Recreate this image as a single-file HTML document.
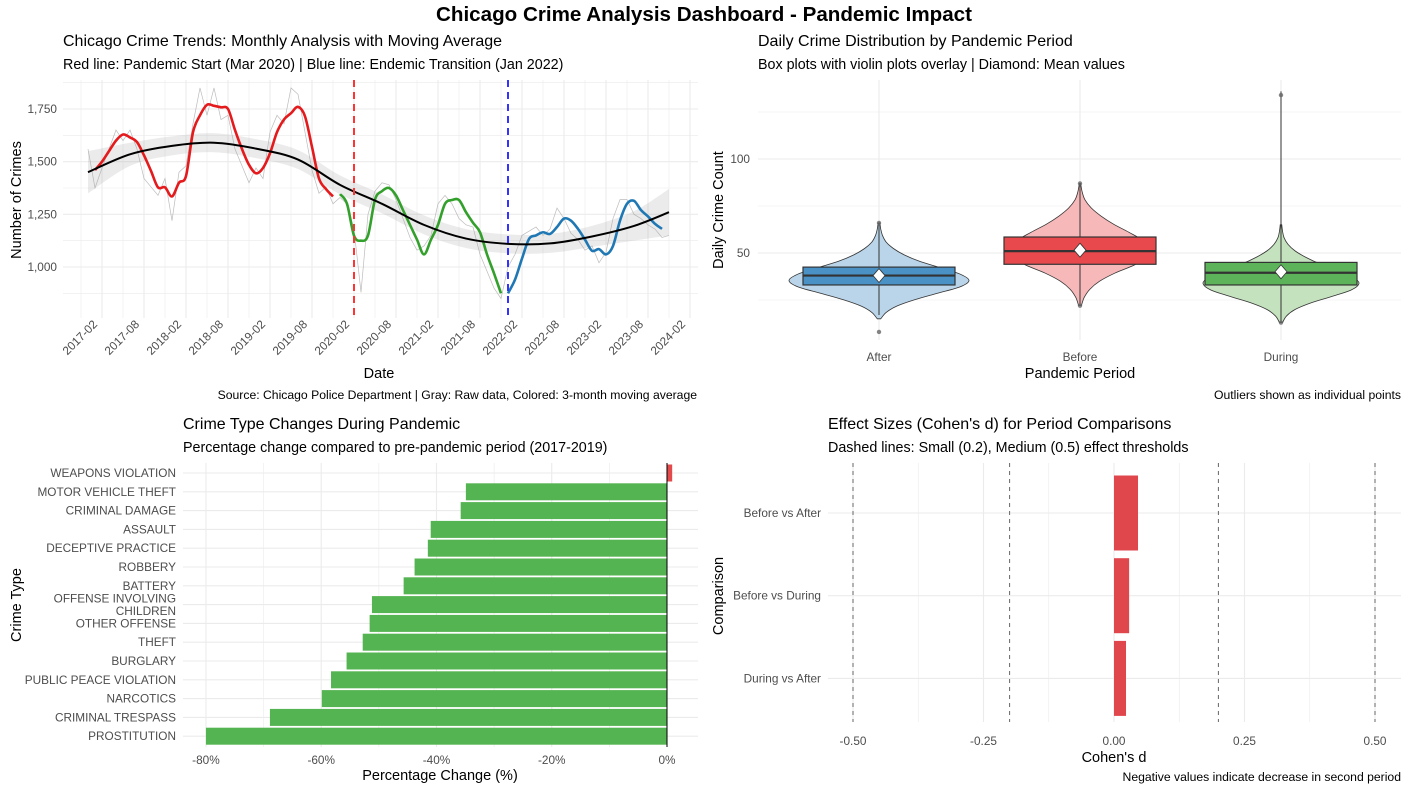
<!DOCTYPE html>
<html><head><meta charset="utf-8"><style>
body{margin:0;background:#fff;}
svg{display:block;font-family:"Liberation Sans",sans-serif;}
</style></head><body>
<svg id="s" width="1409" height="791" viewBox="0 0 1409 791">
<text x="704" y="21" text-anchor="middle" font-size="20.6" font-weight="bold" fill="#000">Chicago Crime Analysis Dashboard - Pandemic Impact</text>
<g id="tl"></g>
<g id="tr"></g>
<g id="bl"></g>
<g id="br"></g>
</svg>
<script>
// ---------- DATA ----------
const maStart = 1;
const maValues = [1460,1500,1550,1600,1629,1615,1593,1530,1456,1378,1378,1335,1400,1432,1640,1720,1770,1765,1758,1750,1650,1560,1485,1445,1470,1540,1640,1700,1730,1760,1715,1570,1420,1370,1335,
 1346,1300,1149,1125,1150,1320,1360,1375,1340,1270,1200,1130,1060,1130,1200,1300,1318,1318,1260,1210,1165,1060,970,875,
 875,940,1040,1133,1150,1165,1157,1190,1230,1220,1181,1130,1077,1085,1060,1100,1220,1300,1314,1270,1240,1205,1181];
const maPeriod = [];
for(let i=0;i<maValues.length;i++){const m=i+maStart;maPeriod.push(m<=35?0:(m<=59?1:2));}
const rawValues = [1560,1375,1470,1560,1650,1600,1650,1560,1420,1380,1340,1420,1220,1450,1480,1680,1850,1720,1850,1700,1720,1560,1480,1400,1470,1420,1640,1720,1680,1850,1820,1640,1460,1350,1380,1300,1330,1300,1180,880,1250,1360,1400,1390,1320,1230,1140,1080,1100,1150,1300,1340,1300,1230,1200,1190,1060,980,900,850,1000,1060,1150,1170,1190,1150,1180,1280,1230,1160,1130,1080,1100,1020,1070,1230,1320,1320,1250,1230,1200,1180,1140,1150];
const trendMonths = [0,6,12,18,24,30,36,42,48,54,60,66,72,78,83];
const trendValues = [1450,1535,1575,1590,1562,1510,1390,1300,1200,1135,1110,1112,1145,1195,1260];
const trendSE = [100,55,45,45,45,45,45,45,45,45,45,45,50,70,110];
const yTicksTL = [1000,1250,1500,1750];
const xTickLabelsTL = ["2017-02","2017-08","2018-02","2018-08","2019-02","2019-08","2020-02","2020-08","2021-02","2021-08","2022-02","2022-08","2023-02","2023-08","2024-02"];
const pandemicStartMonth = 38, endemicMonth = 60;

const periods = ["After","Before","During"];
const q1 = [33,44,33], med = [38,51,39.5], q3 = [42.5,58.5,45], means=[38,51.5,40];
const whiskLo = [17,22,13], whiskHi = [66,87,136];
const outliers = [[8,66],[87,22],[134,13]];
const violinMin=[15,22,13], violinMax=[66,87,65];
const violinDensity = [
 [0.02,0.08,0.2,0.4,0.65,0.9,1.0,0.9,0.68,0.45,0.28,0.16,0.08,0.04,0.02,0.01],
 [0.02,0.06,0.14,0.28,0.5,0.78,0.95,1.0,0.9,0.7,0.48,0.3,0.16,0.07,0.03,0.01],
 [0.02,0.07,0.18,0.38,0.65,0.9,1.0,0.92,0.72,0.5,0.32,0.18,0.09,0.04,0.02,0.01]];
const violinMaxW = [90,70,78];
const yTicksTR=[50,100];

const crimeTypes=["WEAPONS VIOLATION","MOTOR VEHICLE THEFT","CRIMINAL DAMAGE","ASSAULT","DECEPTIVE PRACTICE","ROBBERY","BATTERY","OFFENSE INVOLVING\nCHILDREN","OTHER OFFENSE","THEFT","BURGLARY","PUBLIC PEACE VIOLATION","NARCOTICS","CRIMINAL TRESPASS","PROSTITUTION"];
const pctChange=[0.9,-34.9,-35.8,-41,-41.5,-43.8,-45.7,-51.2,-51.6,-52.8,-55.6,-58.3,-59.9,-68.9,-80];
const xTicksBL=[-80,-60,-40,-20,0];

const comparisons=["Before vs After","Before vs During","During vs After"];
const cohensD=[0.046,0.029,0.023];
const xTicksBR=[-0.5,-0.25,0,0.25,0.5];
const thresholds=[-0.5,-0.2,0.2,0.5];

// ---------- HELPERS ----------
const NS="http://www.w3.org/2000/svg";
const TS=16, SS=14.3, KS=11.8, CS=12.2;
function mk(parent,tag,attrs,txt){const e=document.createElementNS(NS,tag);for(const k in attrs)e.setAttribute(k,attrs[k]);if(txt!==undefined)e.textContent=txt;parent.appendChild(e);return e;}
function line(p,x1,y1,x2,y2,st,w,dash){return mk(p,"line",{x1,y1,x2,y2,stroke:st,"stroke-width":w||1,"stroke-dasharray":dash||"none"});}
function txt(p,x,y,s,size,anchor,fill,extra){const a={x,y,"font-size":size,"text-anchor":anchor||"start",fill:fill||"#000"};Object.assign(a,extra||{});return mk(p,"text",a,s);}
function catmull(pts){let d="M"+pts[0][0]+","+pts[0][1];for(let i=0;i<pts.length-1;i++){const p0=pts[i-1]||pts[i],p1=pts[i],p2=pts[i+1],p3=pts[i+2]||p2;d+=" C"+(p1[0]+(p2[0]-p0[0])/6)+","+(p1[1]+(p2[1]-p0[1])/6)+" "+(p2[0]-(p3[0]-p1[0])/6)+","+(p2[1]-(p3[1]-p1[1])/6)+" "+p2[0]+","+p2[1];}return d;}

// ---------- TOP LEFT ----------
(function(){
const g=document.getElementById("tl");
let t=txt(g,63,46,"Chicago Crime Trends: Monthly Analysis with Moving Average",TS);

t=txt(g,63,69,"Red line: Pandemic Start (Mar 2020) | Blue line: Endemic Transition (Jan 2022)",SS);

const X=m=>88+7*m, Y=v=>109+(1750-v)*52.67/250;
const L=63,R=698,T=80,B=318;
for(let v=875;v<=1875;v+=125){const y=Y(v);if(y>=T&&y<=B)line(g,L,y,R,y,"#EBEBEB",v%250?0.6:1.1);}
for(let m=-2;m<=86;m+=3){const x=X(m+1);if(x>=L&&x<=R)line(g,x,T,x,B,"#EBEBEB",(m+2)%6===0?0.6:1.1);}
yTicksTL.forEach(v=>{const e=txt(g,57,Y(v)+4,v.toLocaleString("en-US"),KS,"end","#4D4D4D");});
xTickLabelsTL.forEach((s,i)=>{const x=X(1+6*i);const e=txt(g,x+3,325,s,KS,"end","#4D4D4D",{transform:`rotate(-45 ${x+3} 325)`});});
const up=trendMonths.map((m,i)=>[X(m),Y(trendValues[i]+trendSE[i])]);
const lo=trendMonths.map((m,i)=>[X(m),Y(trendValues[i]-trendSE[i])]).reverse();
let band=mk(g,"path",{d:catmull(up)+" L"+catmull(lo).slice(1)+" Z",fill:"#999",opacity:0.2});

let raw=mk(g,"polyline",{points:rawValues.map((v,i)=>X(i)+","+Y(v)).join(" "),fill:"none",stroke:"#A0A0A0","stroke-width":0.7,opacity:0.7});

const cols=["#E41A1C","#33A02C","#1F78B4"];
[0,1,2].forEach(p=>{const pts=[];maValues.forEach((v,i)=>{if(maPeriod[i]===p)pts.push([X(i+maStart),Y(v)]);});
 const e=mk(g,"path",{d:catmull(pts),fill:"none",stroke:cols[p],"stroke-width":2.6});
 });
let tr=mk(g,"path",{d:catmull(trendMonths.map((m,i)=>[X(m),Y(trendValues[i])])),fill:"none",stroke:"#000","stroke-width":2});

let v1=line(g,X(pandemicStartMonth),T,X(pandemicStartMonth),B,"#FF3333",2,"7,5");

let v2=line(g,X(endemicMonth),T,X(endemicMonth),B,"#3333FF",2,"7,5");

t=txt(g,379,378,"Date",14.5,"middle");
t=txt(g,21,200,"Number of Crimes",14.5,"middle","#000",{transform:"rotate(-90 21 200)"});
t=txt(g,697,399,"Source: Chicago Police Department | Gray: Raw data, Colored: 3-month moving average",CS,"end");
})();

// ---------- TOP RIGHT ----------
(function(){
const g=document.getElementById("tr");
let t=txt(g,758,46,"Daily Crime Distribution by Pandemic Period",TS);
t=txt(g,758,69,"Box plots with violin plots overlay | Diamond: Mean values",SS);
const L=758,R=1401,T=80,B=340;
const Y=v=>347-v*1.88, X=i=>879+i*201;
[25,75,125].forEach(v=>line(g,L,Y(v),R,Y(v),"#EBEBEB",0.6));
yTicksTR.forEach(v=>{line(g,L,Y(v),R,Y(v),"#EBEBEB",1.1);const e=txt(g,750,Y(v)+4,v,KS,"end","#4D4D4D");});
periods.forEach((p,i)=>line(g,X(i),T,X(i),B,"#EBEBEB",1.1));
const vcol=["#BAD4E9","#F6B8B8","#C4E2BE"], bcol=["#4A92C6","#E8494D","#5DB35A"];
periods.forEach((p,i)=>{
 const cx=X(i),d=violinDensity[i],n=d.length,pr=[],pl=[];
 d.forEach((w,k)=>{const v=violinMin[i]+(violinMax[i]-violinMin[i])*k/(n-1);pr.push([cx+w*violinMaxW[i],Y(v)]);pl.push([cx-w*violinMaxW[i],Y(v)]);});
 let vio=mk(g,"path",{d:catmull(pr)+" L"+catmull(pl.reverse()).slice(1)+" Z",fill:vcol[i],stroke:"#333","stroke-width":0.8});
 
 let wk=line(g,cx,Y(whiskHi[i]),cx,Y(whiskLo[i]),"#333",1);
 let bx=mk(g,"rect",{x:cx-76,y:Y(q3[i]),width:152,height:Y(q1[i])-Y(q3[i]),fill:bcol[i],stroke:"#333","stroke-width":1.2});
 
 let md=line(g,cx-76,Y(med[i]),cx+76,Y(med[i]),"#333",2.2);
 outliers[i].forEach(v=>{const c=mk(g,"circle",{cx,cy:Y(v),r:2.2,fill:"#666",opacity:0.8});});
 const my=Y(means[i]);let dm=mk(g,"polygon",{points:`${cx},${my-7} ${cx+6},${my} ${cx},${my+7} ${cx-6},${my}`,fill:"#fff",stroke:"#333","stroke-width":0.8});
 
 const e=txt(g,cx,361,p,KS,"middle","#4D4D4D");
});
t=txt(g,1080,378,"Pandemic Period",14.5,"middle");
t=txt(g,723,210,"Daily Crime Count",14.5,"middle","#000",{transform:"rotate(-90 723 210)"});
t=txt(g,1401,399,"Outliers shown as individual points",CS,"end");
})();

// ---------- BOTTOM LEFT ----------
(function(){
const g=document.getElementById("bl");
let t=txt(g,183,429,"Crime Type Changes During Pandemic",TS);
t=txt(g,183,452,"Percentage change compared to pre-pandemic period (2017-2019)",SS);
const L=183,R=698,T=463,B=747;
const X=v=>667+v*5.763, Yc=i=>473+i*18.8;
[-70,-50,-30,-10].forEach(v=>line(g,X(v),T,X(v),B,"#EBEBEB",0.6));
xTicksBL.forEach(v=>{line(g,X(v),T,X(v),B,"#EBEBEB",1.1);const e=txt(g,X(v),764,v+"%",KS,"middle","#4D4D4D");});
crimeTypes.forEach((c,i)=>{
 line(g,L,Yc(i),R,Yc(i),"#EBEBEB",1.1);
 const v=pctChange[i];const b=mk(g,"rect",{x:Math.min(X(0),X(v)),y:Yc(i)-8.5,width:Math.abs(X(v)-X(0)),height:17,fill:v>=0?"#E34A4C":"#55B452"});
 
 const parts=c.split("\n");
 parts.forEach((s,k)=>{const e=txt(g,176,Yc(i)+4+(k-(parts.length-1)/2)*12.5,s,KS,"end","#4D4D4D");});
});
let z=line(g,X(0),T,X(0),B,"#000",1);
t=txt(g,440,780,"Percentage Change (%)",14.5,"middle");
t=txt(g,21,605,"Crime Type",14.5,"middle","#000",{transform:"rotate(-90 21 605)"});
})();

// ---------- BOTTOM RIGHT ----------
(function(){
const g=document.getElementById("br");
let t=txt(g,828,429,"Effect Sizes (Cohen's d) for Period Comparisons",TS);
t=txt(g,828,452,"Dashed lines: Small (0.2), Medium (0.5) effect thresholds",SS);
const L=828,R=1401,T=463,B=722;
const X=v=>1114+v*522, Yc=i=>513+i*82.7;
[-0.375,-0.125,0.125,0.375].forEach(v=>line(g,X(v),T,X(v),B,"#EBEBEB",0.6));
xTicksBR.forEach(v=>{line(g,X(v),T,X(v),B,"#EBEBEB",1.1);const e=txt(g,X(v),745,v.toFixed(2),KS,"middle","#4D4D4D");});
comparisons.forEach((c,i)=>{
 line(g,L,Yc(i),R,Yc(i),"#EBEBEB",1.1);
 const v=cohensD[i];const b=mk(g,"rect",{x:Math.min(X(0),X(v)),y:Yc(i)-37.5,width:Math.abs(X(v)-X(0)),height:75,fill:"#E0474C"});
 
 const e=txt(g,821,Yc(i)+4,c,KS,"end","#4D4D4D");
});
thresholds.forEach(v=>{const l=line(g,X(v),T,X(v),B,"#666",1,"4,4");});
t=txt(g,1114,762,"Cohen's d",14.5,"middle");
t=txt(g,723,596,"Comparison",14.5,"middle","#000",{transform:"rotate(-90 723 596)"});
t=txt(g,1401,781,"Negative values indicate decrease in second period",CS,"end");
})();
</script>
</body></html>
